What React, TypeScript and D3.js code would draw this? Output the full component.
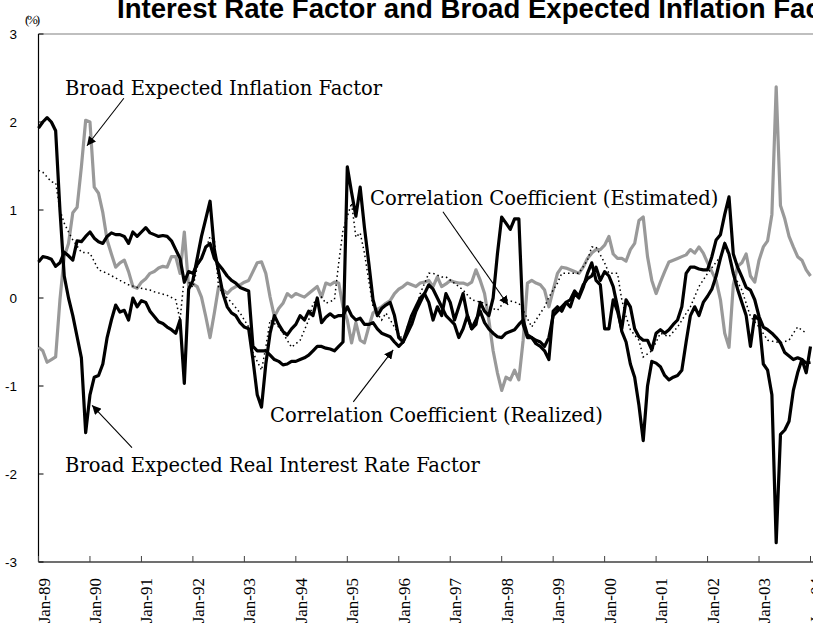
import React from "react";
import * as d3 from "d3";

const W = 813;
const H = 626;

const yearLabels = [
  "Jan-89", "Jan-90", "Jan-91", "Jan-92", "Jan-93", "Jan-94", "Jan-95", "Jan-96",
  "Jan-97", "Jan-98", "Jan-99", "Jan-00", "Jan-01", "Jan-02", "Jan-03", "Jan-04",
];
const yTicks = [3, 2, 1, 0, -1, -2, -3];

// Monthly values, Jan-89 .. Jan-04 (181 months)
const inflationValues = [
  -0.56, -0.6, -0.73, -0.7, -0.67, -0.02, 0.47, 0.62, 0.97, 1.03, 1.49, 2.02, 2.0, 1.26, 1.19, 0.97,
  0.66, 0.5, 0.35, 0.4, 0.43, 0.3, 0.13, 0.11, 0.18, 0.22, 0.28, 0.3, 0.34, 0.36, 0.35, 0.47,
  0.47, 0.28, 0.75, 0.13, 0.16, 0.13, 0.01, -0.21, -0.45, -0.17, 0.13, 0.09, 0.05, 0.1, 0.13, 0.15,
  0.18, 0.2, 0.3, 0.4, 0.41, 0.28, 0.01, -0.21, -0.12, -0.06, 0.05, 0.01, 0.05, 0.03, 0.01, 0.05,
  0.09, 0.13, 0.01, 0.17, 0.15, 0.18, 0.17, -0.1, -0.25, -0.51, -0.28, -0.48, -0.51, -0.33, -0.17, -0.13,
  -0.1, -0.06, -0.03, 0.05, 0.1, 0.13, 0.17, 0.15, 0.13, 0.17, 0.18, 0.2, 0.13, 0.24, 0.13, 0.16,
  0.2, 0.18, 0.17, 0.17, 0.15, 0.18, 0.32, 0.2, 0.05, -0.25, -0.6, -0.85, -1.05, -0.9, -0.93, -0.82,
  -0.93, -0.48, 0.17, 0.2, 0.17, 0.15, 0.09, -0.1, 0.09, 0.28, 0.35, 0.34, 0.32, 0.3, 0.28, 0.35,
  0.45, 0.51, 0.55, 0.55, 0.6, 0.7, 0.5, 0.45, 0.45, 0.42, 0.55, 0.62, 0.88, 0.92, 0.47, 0.2,
  0.05, 0.18, 0.3, 0.41, 0.43, 0.45, 0.47, 0.49, 0.55, 0.51, 0.58, 0.51, 0.4, 0.3, 0.2, -0.02,
  -0.4, -0.56, 0.15, 0.36, 0.4, 0.5, 0.25, 0.18, 0.43, 0.58, 0.65, 0.95, 2.4, 1.05, 0.9, 0.7,
  0.58, 0.47, 0.43, 0.32, 0.25,
];

const realRateValues = [
  1.93, 2.0, 2.05, 2.0, 1.9, 1.0, 0.25, 0.0, -0.2, -0.44, -0.68, -1.53, -1.1, -0.9, -0.88, -0.75,
  -0.45, -0.25, -0.08, -0.16, -0.14, -0.25, 0.0, -0.1, -0.03, -0.05, -0.15, -0.21, -0.27, -0.29, -0.33, -0.36,
  -0.4, -0.25, -0.97, 0.1, 0.2, 0.45, 0.7, 0.9, 1.1, 0.55, 0.3, 0.05, -0.1, -0.17, -0.2, -0.28,
  -0.33, -0.35, -0.7, -1.1, -1.24, -0.75, -0.4, -0.2, -0.3, -0.38, -0.42, -0.35, -0.3, -0.2, -0.25, -0.15,
  -0.2, 0.0, -0.28, -0.22, -0.18, -0.22, -0.2, -0.2, -0.1, -0.2, -0.25, -0.23, -0.3, -0.3, -0.28, -0.35,
  -0.4, -0.42, -0.44, -0.5, -0.55, -0.5, -0.35, -0.2, -0.1, 0.0, 0.05, -0.05, -0.25, -0.1, -0.2, 0.05,
  -0.05, -0.25, -0.1, 0.05, -0.2, -0.35, -0.25, -0.15, -0.28, -0.35, -0.4, -0.44, -0.45, -0.4, -0.38, -0.36,
  -0.3, -0.25, -0.42, -0.45, -0.48, -0.5, -0.55, -0.45, -0.2, -0.15, -0.1, -0.05, -0.02, 0.08, 0.02, 0.15,
  0.22, 0.25, 0.35, 0.2, 0.3, 0.25, 0.13, -0.1, -0.38, -0.5, -0.75, -0.9, -1.22, -1.62, -1.0, -0.72,
  -0.74, -0.78, -0.88, -0.93, -0.9, -0.88, -0.82, -0.5, -0.2, -0.1, -0.2, -0.05, 0.02, 0.1, 0.25, 0.45,
  0.62, 0.5, 0.28, 0.1, -0.05, -0.2, -0.55, -0.2, -0.25, -0.75, -0.82, -1.1, -2.78, -1.55, -1.5, -1.4,
  -1.05, -0.85, -0.7, -0.85, -0.55,
];

const realizedValues = [
  0.41, 0.47, 0.46, 0.44, 0.36, 0.4, 0.52, 0.48, 0.43, 0.65, 0.64, 0.7, 0.75, 0.68, 0.64, 0.62,
  0.7, 0.74, 0.72, 0.72, 0.7, 0.62, 0.75, 0.7, 0.75, 0.8, 0.74, 0.72, 0.7, 0.71, 0.7, 0.65,
  0.55, 0.45, 0.18, 0.3, 0.28, 0.38, 0.45, 0.58, 0.62, 0.45, 0.38, 0.32, 0.25, 0.2, 0.17, 0.12,
  0.1, 0.08, -0.55, -0.6, -0.6, -0.6, -0.65, -0.7, -0.72, -0.76, -0.75, -0.72, -0.72, -0.7, -0.68, -0.65,
  -0.6, -0.55, -0.55, -0.57, -0.58, -0.6, -0.55, -0.5, 1.49, 1.2, 0.93, 1.26, 0.8, 0.4, -0.02, -0.2,
  -0.12, -0.08, -0.05, -0.2, -0.45, -0.5, -0.4, -0.3, -0.15, -0.05, 0.05, 0.15, 0.1, 0.0, -0.1, -0.2,
  -0.25, -0.3, -0.45, -0.35, -0.2, -0.35, -0.3, -0.05, -0.15, -0.2, 0.0, 0.5, 0.92, 0.85, 0.78, 0.9,
  0.9, -0.3, -0.45, -0.45, -0.52, -0.55, -0.6, -0.7, -0.15, -0.1, -0.15, -0.05, -0.1, 0.05, 0.0, 0.12,
  0.28, 0.4, 0.2, 0.15, -0.35, -0.35, -0.02, -0.15, -0.35, -0.02, -0.1, -0.35, -0.44, -0.48, -0.48, -0.59,
  -0.4, -0.36, -0.4, -0.36, -0.3, -0.25, -0.1, 0.28, 0.35, 0.35, 0.33, 0.32, 0.32, 0.47, 0.66, 0.72,
  0.95, 1.15, 0.5, 0.35, 0.24, 0.12, 0.09, -0.02, -0.21, -0.33, -0.36, -0.4, -0.45, -0.51, -0.62, -0.66,
  -0.7, -0.68, -0.7, -0.74, -0.73,
];

const estimatedMonths = [
  0, 1, 3, 4, 5, 6, 7, 8, 10, 12, 14, 16, 19, 21, 23, 26, 27, 30, 32, 33, 34, 36, 37, 39, 40, 41, 42,
  44, 45, 47, 49, 50, 52, 53, 54, 56, 57, 59, 61, 63, 64, 66, 67, 69, 70, 71, 73, 74, 75, 76, 77, 78,
  80, 81, 83, 85, 86, 88, 89, 91, 92, 94, 95, 98, 99, 101, 104, 105, 107, 109, 112, 113, 115, 116, 118,
  119, 121, 122, 124, 126, 128, 129, 130, 132, 133, 135, 136, 137, 138, 140, 141, 143, 145, 147, 149,
  152, 154, 156, 159, 160, 161, 162, 164, 165, 166, 168, 170, 173, 175, 176, 177, 179,
];
const estimatedValues = [
  1.45, 1.43, 1.32, 1.31, 1.0, 0.85, 0.75, 0.66, 0.52, 0.51, 0.32, 0.28, 0.2, 0.15, 0.12, 0.09, 0.07, 0.03, -0.02, -0.25, 0.24, 0.12, 0.35, 0.55, 0.7, 0.66, 0.12,
  0.0, -0.05, -0.17, -0.33, -0.62, -0.82, -0.56, -0.25, -0.33, -0.4, -0.56, -0.48, -0.25, -0.06, 0.01, -0.06, -0.02, 0.4, 0.77, 1.08, 0.69, 0.74, 0.51, 0.2, -0.1,
  -0.25, -0.17, -0.33, -0.48, -0.33, -0.14, 0.05, 0.28, 0.28, 0.24, 0.24, 0.13, 0.09, -0.02, -0.06, -0.1, -0.14, -0.02, -0.06, -0.14, -0.33, -0.25, -0.1,
  0.01, 0.17, 0.28, 0.28, 0.28, 0.43, 0.58, 0.58, 0.4, 0.28, 0.28, -0.02, -0.21, -0.36, -0.48, -0.67, -0.6, -0.4, -0.44, -0.33,
  -0.1, 0.13, 0.28, 0.47, 0.62, 0.47, 0.28, 0.09, -0.06, -0.21, -0.33, -0.48, -0.51, -0.48, -0.4, -0.33, -0.4,
];

const labelInflation = "Broad Expected Inflation Factor";
const labelRealRate = "Broad Expected Real Interest Rate Factor";
const labelEstimated = "Correlation Coefficient (Estimated)";
const labelRealized = "Correlation Coefficient (Realized)";
const titleText = "Interest Rate Factor and Broad Expected Inflation Factor";

export default function App() {
  const x = d3.scaleLinear().domain([0, 180]).range([38.5, 810.5]);
  const y = d3.scaleLinear().domain([-3, 3]).range([562, 34]);
  const line = d3
    .line<[number, number]>()
    .x((d) => x(d[0]))
    .y((d) => y(d[1]));

  const asPairs = (vals: number[]) => vals.map((v, i) => [i, v] as [number, number]);
  const grayPath = line(asPairs(inflationValues)) || "";
  const realPath = line(asPairs(realRateValues)) || "";
  const realizedPath = line(asPairs(realizedValues)) || "";
  const estPath =
    line(estimatedMonths.map((m, i) => [m, estimatedValues[i]] as [number, number])) || "";

  const serif = "'DejaVu Serif', serif";
  const tickFont = "'Liberation Serif', 'Times New Roman', serif";

  const annotations = [
    { text: labelInflation, tx: 6.2, ty: 2.31, ax1: 19.9, ay1: 2.27, ax2: 11.3, ay2: 1.73 },
    { text: labelRealRate, tx: 6.2, ty: -1.98, ax1: 21.8, ay1: -1.7, ax2: 12.5, ay2: -1.22 },
    { text: labelEstimated, tx: 77.3, ty: 1.06, ax1: 94.3, ay1: 0.98, ax2: 109.5, ay2: -0.08 },
    { text: labelRealized, tx: 54, ty: -1.41, ax1: 73.4, ay1: -1.18, ax2: 82.7, ay2: -0.59 },
  ];

  return (
    <svg
      width={W}
      height={H}
      style={{ position: "absolute", left: 0, top: 0, background: "#fff" }}
    >
      <defs>
        <marker
          id="arrow"
          viewBox="0 0 10 10"
          refX="10"
          refY="5"
          markerWidth="9"
          markerHeight="9"
          markerUnits="userSpaceOnUse"
          orient="auto"
        >
          <path d="M0,0 L10,5 L0,10 z" fill="#000" />
        </marker>
      </defs>
      <rect x={0} y={0} width={W} height={H} fill="#fff" />

      {/* title (cut by the frame, as in the reference) */}
      <text
        x={117}
        y={18}
        fontFamily="'Liberation Sans', Arial, sans-serif"
        fontWeight="bold"
        fontSize={27.6}
        fill="#000"
      >
        {titleText}
      </text>

      {/* unit label */}
      <text x={25} y={24} fontFamily={tickFont} fontSize={13} textLength={15} fill="#000">
        (%)
      </text>

      {/* frame */}
      <line x1={x(0)} x2={W} y1={y(3)} y2={y(3)} stroke="#808080" strokeWidth={1.2} />
      <line x1={x(0)} x2={W} y1={y(-3)} y2={y(-3)} stroke="#404040" strokeWidth={1.5} />
      <line x1={x(0)} x2={x(0)} y1={y(3)} y2={y(-3)} stroke="#000" strokeWidth={1.2} />

      {/* y ticks */}
      {yTicks.map((t) => (
        <g key={t}>
          <line x1={x(0)} x2={x(0) + 5} y1={y(t)} y2={y(t)} stroke="#000" strokeWidth={1} />
          <text
            x={17}
            y={y(t)}
            dy="0.35em"
            textAnchor="end"
            fontFamily="'Liberation Sans Narrow', 'Arial Narrow', 'Liberation Sans', sans-serif"
            fontSize={13.5}
            fill="#000"
          >
            {t}
          </text>
        </g>
      ))}

      {/* x ticks */}
      {yearLabels.map((lab, i) => (
        <g key={lab}>
          <line
            x1={x(i * 12)}
            x2={x(i * 12)}
            y1={y(-3)}
            y2={y(-3) - 6}
            stroke="#404040"
            strokeWidth={1}
          />
          <text
            transform={`translate(${x(i * 12) + 11},${578}) rotate(-90)`}
            textAnchor="end"
            fontFamily={tickFont}
            fontSize={17}
            fill="#000"
          >
            {lab}
          </text>
        </g>
      ))}

      {/* series */}
      <path d={grayPath} fill="none" stroke="#999999" strokeWidth={3.2} strokeLinejoin="round" />
      <path d={realPath} fill="none" stroke="#000" strokeWidth={3.2} strokeLinejoin="round" />
      <path d={realizedPath} fill="none" stroke="#000" strokeWidth={3.2} strokeLinejoin="round" />
      <path d={estPath} fill="none" stroke="#000" strokeWidth={1.5} strokeDasharray="1.5,3" />

      {/* annotations */}
      {annotations.map((a) => (
        <g key={a.text}>
          <text x={x(a.tx)} y={y(a.ty)} fontFamily={serif} fontSize={19.5} fill="#000">
            {a.text}
          </text>
          <line
            x1={x(a.ax1)}
            y1={y(a.ay1)}
            x2={x(a.ax2)}
            y2={y(a.ay2)}
            stroke="#000"
            strokeWidth={1.1}
            markerEnd="url(#arrow)"
          />
        </g>
      ))}
    </svg>
  );
}
